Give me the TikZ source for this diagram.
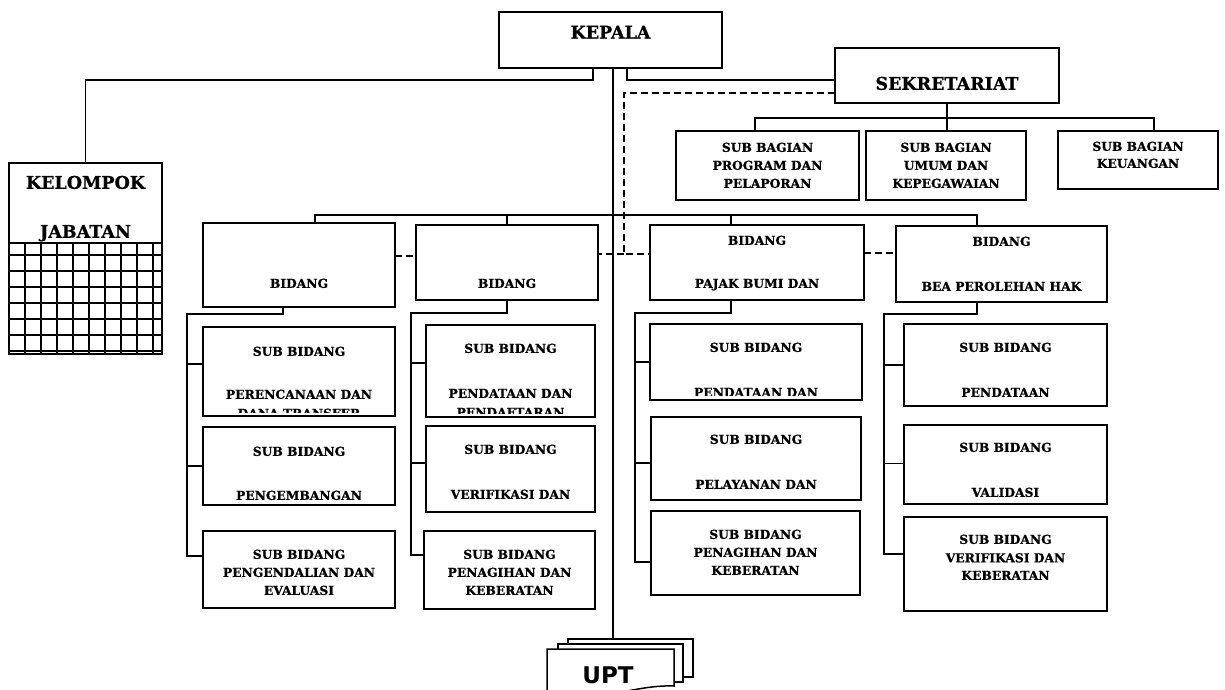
\documentclass[tikz,border=0pt]{standalone}
\usepackage{fontspec}
\newfontfamily\dserif{DejaVu Serif}[BoldFeatures={FakeBold=0.8}]
\newfontfamily\dsans{DejaVu Sans}
\usetikzlibrary{calc}
\tikzset{
  bx/.style={draw, line width=1.7pt, inner sep=0pt, outer sep=0pt, fill=white},
  txt/.style={font=\dserif\bfseries\fontsize{12.3}{18}\selectfont, align=center, inner sep=0pt},
  hd/.style={font=\dserif\bfseries\fontsize{17.5}{20}\selectfont, align=center, inner sep=0pt},
  ln/.style={line width=1.6pt},
  dsh/.style={line width=1.6pt, dash pattern=on 7pt off 4pt},
  gridln/.style={line width=1.5pt},
  upttxt/.style={font=\dsans\bfseries\fontsize{23}{26}\selectfont, inner sep=0pt},
}
% name, x1, y1, x2, y2, bottom clip inset, north y of text, text style, text
\newcommand\orgbox[9]{%
  \node[bx, minimum width={(#4-#2)*1pt}, minimum height={(#5-#3)*1pt}] (#1) at ({(#2+#4)/2},{(#3+#5)/2}) {};
  \begin{scope}
    \clip (#2,#3) rectangle (#4,#5-#6);
    \node[#8, anchor=north] (#1-t) at ({(#2+#4)/2},#7) {#9};
  \end{scope}
}
\begin{document}
\begin{tikzpicture}[x=1pt,y=-1pt]
\useasboundingbox (0,0) rectangle (1225,690);

% ---- boxes
\orgbox{kepala}{499}{12}{722}{68}{0}{25.6}{hd}{KEPALA}
\orgbox{sek}{835}{48}{1059}{103}{0}{76.6}{hd}{SEKRETARIAT}
\orgbox{kel}{9}{163}{162}{354}{0}{175.6}{hd}{KELOMPOK\\[29pt]JABATAN}

\orgbox{sbb1}{676}{131}{859}{200}{0}{142.5}{txt}{SUB BAGIAN\\PROGRAM DAN\\PELAPORAN}
\orgbox{sbb2}{866}{131}{1026}{200}{0}{142.5}{txt}{SUB BAGIAN\\UMUM DAN\\KEPEGAWAIAN}
\orgbox{sbb3}{1058}{131}{1218}{189}{0}{141.5}{txt}{SUB BAGIAN\\[-1pt]KEUANGAN}

\orgbox{b1}{203}{223}{395}{307}{0}{278.5}{txt}{BIDANG}
\orgbox{b2}{416}{225}{598}{300}{0}{278.5}{txt}{BIDANG}
\orgbox{b3}{650}{225}{864}{300}{0}{235.5}{txt}{BIDANG\\[25pt]PAJAK BUMI DAN}
\orgbox{b4}{896}{226}{1107}{302}{0}{236.5}{txt}{BIDANG\\[27pt]BEA PEROLEHAN HAK}

\orgbox{s11}{203}{327}{395}{416}{4}{346.5}{txt}{SUB BIDANG\\[25pt]PERENCANAAN DAN\\[1pt]DANA TRANSFER}
\orgbox{s12}{203}{427}{395}{505}{0}{446.5}{txt}{SUB BIDANG\\[26pt]PENGEMBANGAN}
\orgbox{s13}{203}{531}{395}{608}{0}{549.5}{txt}{SUB BIDANG\\PENGENDALIAN DAN\\EVALUASI}

\orgbox{s21}{426}{325}{595}{417}{4}{343.5}{txt}{SUB BIDANG\\[27pt]PENDATAAN DAN\\[1pt]PENDAFTARAN}
\orgbox{s22}{426}{426}{595}{512}{0}{444.5}{txt}{SUB BIDANG\\[27pt]VERIFIKASI DAN}
\orgbox{s23}{424}{531}{595}{609}{0}{549.5}{txt}{SUB BIDANG\\PENAGIHAN DAN\\KEBERATAN}

\orgbox{s31}{650}{324}{862}{400}{5}{342.5}{txt}{SUB BIDANG\\[27pt]PENDATAAN DAN}
\orgbox{s32}{651}{417}{861}{500}{0}{434.5}{txt}{SUB BIDANG\\[27pt]PELAYANAN DAN}
\orgbox{s33}{651}{511}{860}{595}{0}{529.5}{txt}{SUB BIDANG\\PENAGIHAN DAN\\KEBERATAN}

\orgbox{s41}{904}{324}{1107}{406}{0}{342.5}{txt}{SUB BIDANG\\[27pt]PENDATAAN}
\orgbox{s42}{904}{425}{1107}{504}{0}{442.5}{txt}{SUB BIDANG\\[27pt]VALIDASI}
\orgbox{s43}{904}{517}{1107}{611}{0}{534.5}{txt}{SUB BIDANG\\[0.5pt]VERIFIKASI DAN\\[-0.5pt]KEBERATAN}

% ---- grid of KELOMPOK JABATAN
\draw[gridln] (kel.west |- 0,243) -- (kel.east |- 0,243);
\foreach \yy in {255,271,...,351} \draw[gridln] (kel.west |- 0,\yy) -- (kel.east |- 0,\yy);
\foreach \xx in {25,41,...,153} \draw[gridln] (\xx,243) -- (\xx,354);

% ---- UPT (stacked documents)
\node[bx, line width=1.5pt, minimum width=125pt, minimum height=38pt] (upt3) at (630.5,658) {};
\node[bx, line width=1.5pt, minimum width=125pt, minimum height=38pt] (upt2) at (620.5,663) {};
\draw[line width=1.5pt, fill=white] (547,700) -- (547,649) -- (674,649) -- (674,686)
  .. controls (650,685) and (625,692) .. (600,696) -- (547,700);
\node[upttxt] (upt) at (608,675) {UPT};

% ---- connectors from KEPALA
\coordinate (tk) at ([xshift=2.5pt]kepala.south);
\draw[ln] (tk) -- (tk |- upt3.north);
\draw[ln] ([xshift=-17.5pt]kepala.south) -- ++(0,12) -| (kel.north);
\draw[ln] ([xshift=16.5pt]kepala.south) |- ([yshift=-4.5pt]sek.west);

% ---- dashed coordination lines
\coordinate (dk) at (624,254);
\draw[dsh] ([yshift=-17.5pt]sek.west) -| (dk) -- (dk -| b3.west);
\draw[dsh] (dk) -- (dk -| b2.east);
\draw[dsh] (b1.east |- 0,256) -- (b2.west |- 0,256);
\draw[dsh] (b3.east |- 0,253) -- (b4.west |- 0,253);

% ---- bidang bus
\draw[ln] ([xshift=16pt]b1.north) -- ++(0,-8) -| ([xshift=-24.5pt]b4.north);
\draw[ln] (b2.north) -- ++(0,-10);
\draw[ln] ([xshift=-26pt]b3.north) -- ++(0,-10);

% ---- sekretariat bus
\draw[ln] (sek.south) -- (sek.south |- sbb2.north);
\draw[ln] ([xshift=-12.5pt]sbb1.north) -- ++(0,-13) -| ([xshift=16pt]sbb3.north);

% ---- sub bidang connectors
\coordinate (c1) at (187,314);
\draw[ln] ([xshift=-16pt]b1.south) |- (c1) |- ([yshift=13.5pt]s13.west);
\draw[ln] ([yshift=7.5pt]s11.west) -| (c1);
\draw[ln] (s12.west) -| (c1);

\coordinate (c2) at (411,313);
\draw[ln] (b2.south) |- (c2) |- ([yshift=15pt]s23.west);
\draw[ln] ([yshift=8pt]s21.west) -| (c2);
\draw[ln] ([yshift=6pt]s22.west) -| (c2);

\coordinate (c3) at (635,313);
\draw[ln] ([xshift=-26pt]b3.south) |- (c3) |- ([yshift=-9pt]s33.west);
\draw[ln] (s31.west) -| (c3);
\draw[ln] ([yshift=-4.5pt]s32.west) -| (c3);

\coordinate (c4) at (884,314);
\draw[ln] ([xshift=-24.5pt]b4.south) |- (c4) |- ([yshift=10pt]s43.west);
\draw[ln] (s41.west) -| (c4);
\draw[ln] ([yshift=1pt]s42.west) -| (c4);
\end{tikzpicture}
\end{document}
